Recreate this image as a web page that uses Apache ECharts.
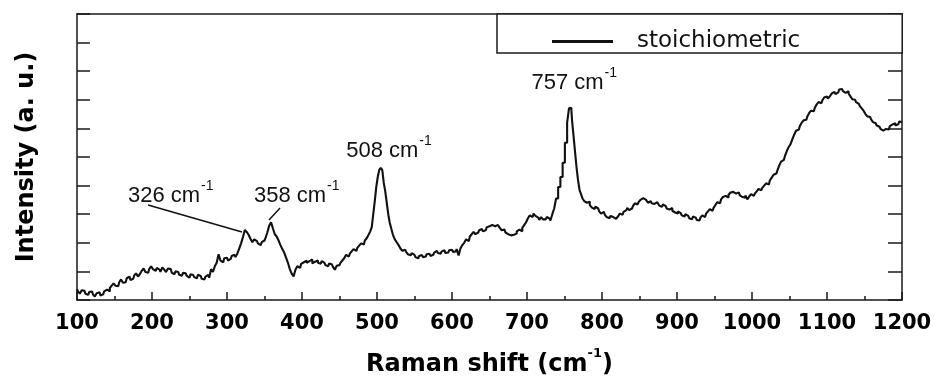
<!DOCTYPE html>
<html>
<head>
<meta charset="utf-8">
<script src="https://cdn.jsdelivr.net/npm/echarts@6/dist/echarts.min.js"></script>
<style>
html,body{margin:0;padding:0;background:#fff;}
#chart{width:936px;height:383px;}
</style>
</head>
<body>
<div id="chart"></div>
<script>
// ---- data: [Raman shift (cm-1), intensity (a.u.)] ----
var spectrum = [
[100,0.38],[102.5,0.3],[105,0.22],[107.5,0.34],[110,0.32],[112.5,0.22],[115,0.18],[117.5,0.28],[120,0.3],[122.5,0.2],
[125,0.12],[127.5,0.24],[130,0.27],[132.5,0.16],[135,0.2],[137.5,0.3],[140,0.36],[142.5,0.3],[145,0.42],[147.5,0.5],
[150,0.58],[152.5,0.5],[155,0.48],[157.5,0.62],[160,0.72],[162.5,0.6],[165,0.62],[167.5,0.76],[170,0.82],[172.5,0.7],
[175,0.74],[177.5,0.86],[180,0.93],[182.5,0.82],[185,0.9],[187.5,1.02],[190,1.1],[192.5,0.98],[195,0.95],[197.5,1.08],
[200,1.18],[202.5,1.08],[205,1.02],[207.5,1.12],[210,1.06],[212.5,0.98],[215,1.14],[217.5,1.06],[220,0.98],[222.5,1.1],
[225,1.08],[227.5,0.96],[230,0.9],[232.5,1.0],[235,0.98],[237.5,0.88],[240,0.85],[242.5,0.95],[245,0.93],[247.5,0.84],
[250,0.78],[252.5,0.9],[255,0.87],[257.5,0.8],[260,0.76],[262.5,0.88],[265,0.84],[267.5,0.74],[270,0.72],[272.5,0.82],
[275,0.88],[277.5,0.78],[280,1.08],[282.5,0.98],[285,1.18],[287.5,1.3],[290,1.6],[292.5,1.38],[295,1.32],[297.5,1.46],
[300,1.48],[302.5,1.38],[305,1.44],[307.5,1.54],[310,1.58],[312.5,1.5],[315,1.62],[317.5,1.8],[320,1.98],[322.5,2.2],
[325,2.45],[327.5,2.38],[330,2.28],[332.5,2.14],[335,2.02],[337.5,2.12],[340,2.06],[342.5,1.98],[345,1.92],[347.5,2.02],
[350,2.08],[352.5,2.16],[355,2.36],[357.5,2.6],[360,2.72],[362.5,2.5],[365,2.3],[367.5,2.22],[370,2.08],[372.5,1.92],
[375,1.78],[377.5,1.66],[380,1.48],[382.5,1.3],[385,1.08],[387.5,0.92],[390,0.82],[392.5,1.06],[395,1.18],[397.5,1.12],
[400,1.26],[402.5,1.32],[405,1.38],[407.5,1.3],[410,1.36],[412.5,1.42],[415,1.28],[417.5,1.34],[420,1.38],[422.5,1.3],
[425,1.27],[427.5,1.36],[430,1.3],[432.5,1.22],[435,1.18],[437.5,1.28],[440,1.24],[442.5,1.16],[445,1.06],[447.5,1.2],
[450,1.22],[452.5,1.3],[455,1.38],[457.5,1.46],[460,1.58],[462.5,1.52],[465,1.62],[467.5,1.7],[470,1.78],[472.5,1.72],
[475,1.82],[477.5,1.9],[480,1.98],[482.5,1.94],[485,2.08],[487.5,2.16],[490,2.28],[492,2.4],
[494,2.55],[496,3.0],[498,3.45],[500,3.95],[502,4.3],[504,4.55],[506,4.62],[508,4.55],[510,4.1],[512,3.8],
[514,3.4],[516,3.0],[518,2.7],[520,2.5],[522.5,2.28],
[525,2.12],[527.5,2.02],[530,1.92],[532.5,1.8],[535,1.72],[537.5,1.76],[540,1.68],[542.5,1.6],[545,1.56],[547.5,1.64],
[550,1.58],[552.5,1.5],[555,1.46],[557.5,1.54],[560,1.57],[562.5,1.5],[565,1.52],[567.5,1.6],[570,1.62],[572.5,1.54],
[575,1.58],[577.5,1.66],[580,1.72],[582.5,1.64],[585,1.62],[587.5,1.7],[590,1.74],[592.5,1.64],[595,1.66],[597.5,1.74],
[600,1.76],[602.5,1.68],[605,1.7],[607.5,1.78],[610,1.56],[612.5,1.8],[615,1.92],[617.5,2.0],[620,2.12],[622.5,2.06],
[625,2.22],[627.5,2.3],[630,2.38],[632.5,2.3],[635,2.36],[637.5,2.44],[640,2.48],[642.5,2.4],[645,2.44],[647.5,2.54],
[650,2.58],[652.5,2.62],[655,2.68],[657.5,2.58],[660,2.62],[662.5,2.56],[665,2.52],[667.5,2.44],[670,2.46],[672.5,2.36],
[675,2.3],[677.5,2.26],[680,2.2],[682.5,2.28],[685,2.32],[687.5,2.4],[690,2.46],[692.5,2.4],[695,2.52],[697.5,2.62],
[700,2.72],[702.5,2.86],[705,2.96],[707.5,2.9],[710,3.02],[712.5,2.94],[715,2.88],[717.5,2.8],[720,2.9],[722.5,2.82],
[725,2.82],[727.5,2.9],[730,2.85],[732.5,2.78],[735,3.0],[737.5,3.2],
[740,3.55],[743,3.95],[746,4.3],[749,4.8],[752,5.5],[755,6.2],[757,6.7],[759,6.72],[761,6.3],[763,5.75],
[765,5.2],[767,4.65],[769,4.2],[771,3.85],[773,3.7],
[775,3.55],[777.5,3.46],[780,3.4],[782.5,3.44],[785,3.32],[787.5,3.24],[790,3.18],[792.5,3.26],[795,3.2],[797.5,3.1],
[800,3.02],[802.5,3.08],[805,2.98],[807.5,2.9],[810,2.86],[812.5,2.94],[815,2.9],[817.5,2.84],[820,2.82],[822.5,2.92],
[825,3.02],[827.5,2.98],[830,3.08],[832.5,3.14],[835,3.22],[837.5,3.14],[840,3.2],[842.5,3.28],[845,3.38],[847.5,3.34],
[850,3.42],[852.5,3.5],[855,3.56],[857.5,3.5],[860,3.48],[862.5,3.4],[865,3.46],[867.5,3.38],[870,3.36],[872.5,3.42],
[875,3.38],[877.5,3.3],[880,3.26],[882.5,3.34],[885,3.28],[887.5,3.2],[890,3.16],[892.5,3.22],[895,3.12],[897.5,3.06],
[900,3.02],[902.5,3.1],[905,3.04],[907.5,2.96],[910,2.92],[912.5,3.0],[915,2.94],[917.5,2.86],[920,2.82],[922.5,2.92],
[925,2.88],[927.5,2.8],[930,2.78],[932.5,2.88],[935,2.96],[937.5,2.9],[940,3.02],[942.5,3.1],[945,3.18],[947.5,3.12],
[950,3.22],[952.5,3.32],[955,3.42],[957.5,3.38],[960,3.52],[962.5,3.6],[965,3.64],[967.5,3.58],[970,3.68],[972.5,3.76],
[975,3.78],[977.5,3.72],[980,3.7],[982.5,3.76],[985,3.66],[987.5,3.6],[990,3.58],[992.5,3.66],[995,3.52],[997.5,3.62],
[1000,3.7],[1002.5,3.64],[1005,3.72],[1007.5,3.8],[1010,3.88],[1012.5,3.84],[1015,3.92],[1017.5,4.0],[1020,4.08],[1022.5,4.04],
[1025,4.18],[1027.5,4.28],[1030,4.38],[1032.5,4.42],[1035,4.52],[1037.5,4.7],[1040,4.84],[1042.5,4.9],[1045,5.02],[1047.5,5.2],
[1050,5.34],[1052.5,5.44],[1055,5.62],[1057.5,5.78],[1060,5.92],[1062.5,5.96],[1065,6.08],[1067.5,6.2],[1070,6.28],[1072.5,6.3],
[1075,6.42],[1077.5,6.54],[1080,6.62],[1082.5,6.6],[1085,6.72],[1087.5,6.84],[1090,6.92],[1092.5,6.88],[1095,6.98],[1097.5,7.08],
[1100,7.12],[1102.5,7.04],[1105,7.12],[1107.5,7.22],[1110,7.28],[1112.5,7.2],[1115,7.26],[1117.5,7.36],[1120,7.38],[1122.5,7.3],
[1125,7.24],[1127.5,7.3],[1130,7.22],[1132.5,7.12],[1135,7.02],[1137.5,7.0],[1140,6.92],[1142.5,6.86],[1145,6.78],[1147.5,6.7],
[1150,6.62],[1152.5,6.5],[1155,6.42],[1157.5,6.4],[1160,6.32],[1162.5,6.22],[1165,6.18],[1167.5,6.1],[1170,6.06],[1172.5,5.98],
[1175,5.92],[1177.5,5.98],[1180,6.02],[1182.5,5.96],[1185,6.08],[1187.5,6.14],[1190,6.18],[1192.5,6.1],[1195,6.14],[1197.5,6.24],
[1200,6.22]
];
var seriesName = 'stoichiometric';
var xTicks = [100,200,300,400,500,600,700,800,900,1000,1100,1200];
// peak annotations: label text (wavenumber) and label anchor [x, y] in data units
var peakLabels = ['326', '358', '508', '757'];
var peakLabelAnchors = [[225, 3.74], [393, 3.74], [516, 5.31], [763, 7.69]];
// leader lines for the two small peaks: [[x1,y1],[x2,y2]]
var leader326 = [[194.7, 3.32], [320, 2.38]];
var leader358 = [[370.7, 3.22], [356, 2.8]];

var chart = echarts.init(document.getElementById('chart'), null, {renderer: 'canvas'});
var axisColor = '#1a1a1a';
var supRich = {
  n: {fontFamily: 'Liberation Sans', fontSize: 22, color: '#111', lineHeight: 28, verticalAlign: 'bottom'},
  s: {fontFamily: 'Liberation Sans', fontSize: 14, color: '#111', lineHeight: 28, verticalAlign: 'top', padding: [0, 0, 0, 1]}
};

var option = {
  backgroundColor: '#ffffff',
  animation: false,
  grid: {left: 77, right: 34, top: 14, bottom: 83, containLabel: false},
  legend: {
    data: [{name: seriesName, icon: 'rect'}],
    left: 497, top: 14,
    itemWidth: 61, itemHeight: 3,
    padding: [16, 102, 0, 55],
    borderColor: axisColor, borderWidth: 1.5, borderRadius: 0,
    backgroundColor: '#ffffff',
    selectedMode: false,
    textStyle: {fontFamily: 'DejaVu Sans', fontSize: 23, color: '#111', lineHeight: 22, padding: [0, 0, 0, 19]}
  },
  xAxis: [{
    type: 'value', min: 100, max: 1200, interval: 100,
    position: 'bottom',
    axisLine: {show: true, onZero: false, lineStyle: {color: axisColor, width: 1.5}},
    axisTick: {show: true, inside: true, length: 8, lineStyle: {color: axisColor, width: 1.5}},
    minorTick: {show: true, splitNumber: 2, length: 4, lineStyle: {color: axisColor, width: 1.5}},
    splitLine: {show: false},
    axisLabel: {show: true, margin: 13, fontFamily: 'DejaVu Sans', fontWeight: 'bold', fontSize: 21, color: '#000',
      showMinLabel: true, showMaxLabel: true,
      formatter: function (v) { return xTicks.indexOf(v) >= 0 ? String(v) : ''; }},
    name: '{a|Raman shift (cm}{b|-1}{a|)}',
    nameLocation: 'middle', nameGap: 47,
    nameTextStyle: {rich: {
      a: {fontFamily: 'DejaVu Sans', fontWeight: 'bold', fontSize: 24, color: '#000', lineHeight: 30, verticalAlign: 'bottom'},
      b: {fontFamily: 'DejaVu Sans', fontWeight: 'bold', fontSize: 13, color: '#000', lineHeight: 30, verticalAlign: 'top'}
    }}
  }, {
    type: 'value', min: 100, max: 1200, interval: 100, position: 'top',
    axisLine: {show: true, onZero: false, lineStyle: {color: axisColor, width: 1.5}},
    axisTick: {show: false}, axisLabel: {show: false}, splitLine: {show: false}
  }],
  yAxis: [{
    type: 'value', min: 0, max: 10, interval: 1, position: 'left',
    axisLine: {show: true, onZero: false, lineStyle: {color: axisColor, width: 1.5}},
    axisTick: {show: true, inside: true, length: 13, lineStyle: {color: axisColor, width: 1.5}},
    axisLabel: {show: false}, splitLine: {show: false},
    name: 'Intensity (a. u.)', nameLocation: 'middle', nameGap: 38, nameRotate: 90,
    nameTextStyle: {fontFamily: 'DejaVu Sans', fontWeight: 'bold', fontSize: 24, color: '#000'}
  }, {
    type: 'value', min: 0, max: 10, interval: 1, position: 'right',
    axisLine: {show: true, onZero: false, lineStyle: {color: axisColor, width: 1.5}},
    axisTick: {show: true, inside: true, length: 14, lineStyle: {color: axisColor, width: 1.5}},
    axisLabel: {show: false}, splitLine: {show: false}
  }],
  series: [{
    name: seriesName, type: 'line', xAxisIndex: 0, yAxisIndex: 0,
    data: spectrum, step: 'middle', showSymbol: false, symbol: 'none',
    lineStyle: {color: '#111', width: 2.1}, itemStyle: {color: '#111'},
    markLine: {
      silent: true, symbol: ['none', 'none'], animation: false,
      lineStyle: {color: '#111', width: 1.5, type: 'solid'},
      label: {show: false},
      data: [
        [{coord: leader326[0]}, {coord: leader326[1]}],
        [{coord: leader358[0]}, {coord: leader358[1]}]
      ]
    },
    markPoint: {
      silent: true, symbol: 'circle', symbolSize: 1, animation: false,
      itemStyle: {color: 'rgba(0,0,0,0)'},
      label: {show: true, position: 'inside', rich: supRich},
      data: peakLabels.map(function (t, i) {
        return {coord: peakLabelAnchors[i], value: t,
          label: {formatter: '{n|' + t + ' cm}{s|-1}'}};
      })
    }
  }]
};
chart.setOption(option);
</script>
</body>
</html>
